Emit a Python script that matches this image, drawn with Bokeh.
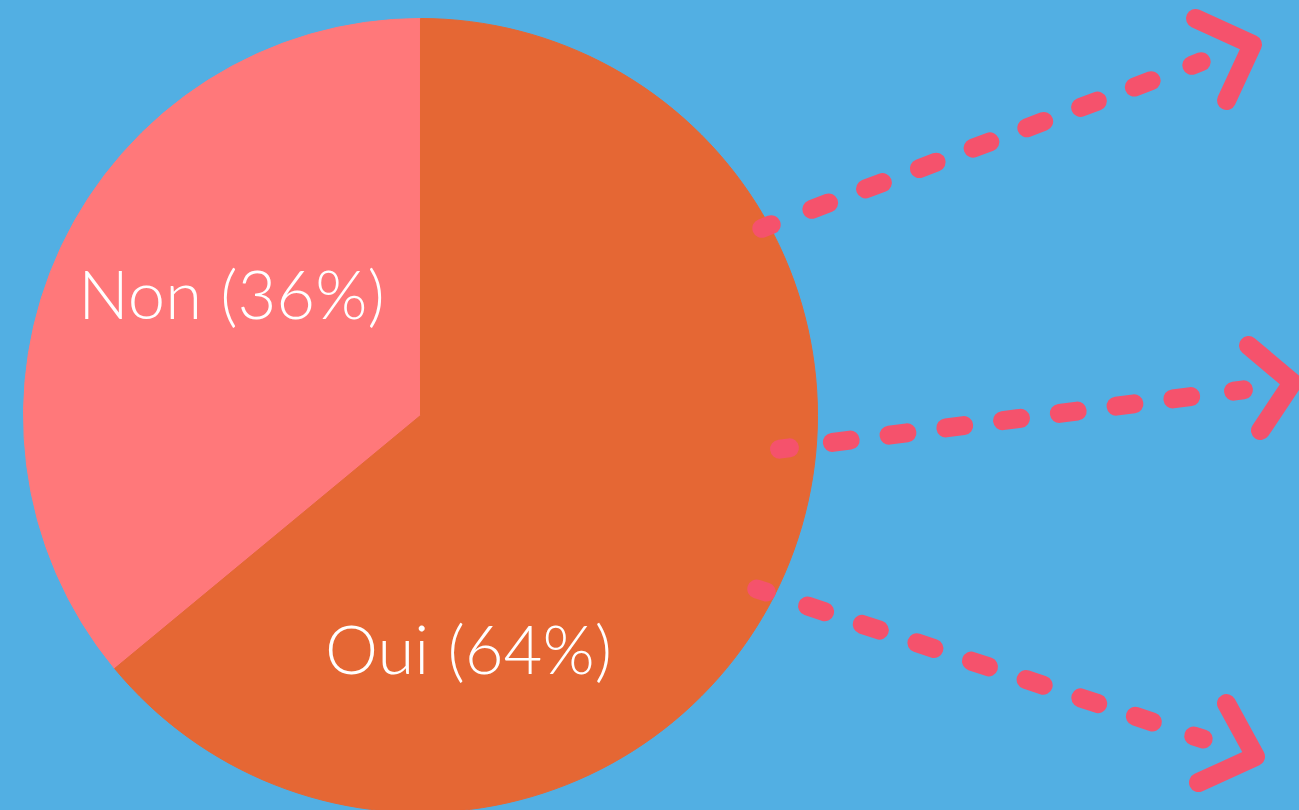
import math
from bokeh.plotting import figure
from bokeh.models import Range1d, ColumnDataSource
from bokeh.core.properties import value
from bokeh.embed import file_html
from bokeh.resources import INLINE

# ---- data ----
categories = ["Non", "Oui"]
percents = [36, 64]
labels = ["Non (36%)", "Oui (64%)"]
slice_colors = ["#FF787A", "#E56734"]

# ---- layout / style constants (reference pixel space, y downward) ----
W, H = 1299, 810
BG = "#52AFE3"
ARROW = "#F5526C"
PIE_CX, PIE_CY, PIE_R = 420, 415, 397
label_pos = [(231, 292), (468, 647)]  # centre x, baseline y

# decorative arrows: first dot centre, last dot centre, chevron points
arrow_dots = [((766, 226), (1196, 63)),
              ((784, 448), (1238, 390)),
              ((761, 590), (1198, 737))]
arrow_heads = [[(1195, 18), (1252, 44), (1226, 100)],
               [(1248, 345), (1292, 382), (1260, 430)],
               [(1226, 703), (1255, 756), (1198, 782)]]
N_DASH = 9
DASH_LEN = 18
DOT_LEN = 10
LW = 19


def Y(y):
    return H - y


p = figure(width=W, height=H, output_backend="svg", toolbar_location=None,
           x_range=Range1d(0, W), y_range=Range1d(0, H),
           x_axis_type=None, y_axis_type=None,
           min_border=0, min_border_left=0, min_border_right=0,
           min_border_top=0, min_border_bottom=0,
           background_fill_color=BG, border_fill_color=BG)
p.outline_line_color = None
p.grid.visible = False

# pie wedges, starting at 12 o'clock, anticlockwise
total = sum(percents)
starts, ends = [], []
a = math.pi / 2
for v in percents:
    starts.append(a)
    a += 2 * math.pi * v / total
    ends.append(a)

src = ColumnDataSource(dict(cat=categories, start=starts, end=ends, color=slice_colors))
p.wedge(x=PIE_CX, y=Y(PIE_CY), radius=PIE_R, start_angle="start", end_angle="end",
        direction="anticlock", fill_color="color", line_color="color", line_width=1,
        source=src)

# labels
p.text(x=[lp[0] for lp in label_pos], y=[Y(lp[1]) for lp in label_pos], text=labels,
       text_color="white", text_font=value("Lato Light"), text_font_size="67px",
       text_align="center", text_baseline="alphabetic")

# dashed arrows
x0s, y0s, x1s, y1s = [], [], [], []
for (s, e) in arrow_dots:
    sx, sy = s[0], Y(s[1])
    ex, ey = e[0], Y(e[1])
    dx, dy = ex - sx, ey - sy
    L = math.hypot(dx, dy)
    ux, uy = dx / L, dy / L
    for i in range(N_DASH):
        t = i / (N_DASH - 1)
        cxp, cyp = sx + dx * t, sy + dy * t
        ln = DOT_LEN if i in (0, N_DASH - 1) else DASH_LEN
        x0s.append(cxp - ux * ln / 2)
        y0s.append(cyp - uy * ln / 2)
        x1s.append(cxp + ux * ln / 2)
        y1s.append(cyp + uy * ln / 2)

p.segment(x0=x0s, y0=y0s, x1=x1s, y1=y1s, line_color=ARROW, line_width=LW,
          line_cap="round")

p.multi_line(xs=[[pt[0] for pt in h] for h in arrow_heads],
             ys=[[Y(pt[1]) for pt in h] for h in arrow_heads],
             line_color=ARROW, line_width=LW, line_cap="round", line_join="round")

html = file_html(p, INLINE, title="Oui / Non")
html = html.replace("</head>",
                    "<style>html,body{margin:0;padding:0;background:%s;overflow:hidden;}</style></head>" % BG, 1)
open("out.html", "w").write(html)
